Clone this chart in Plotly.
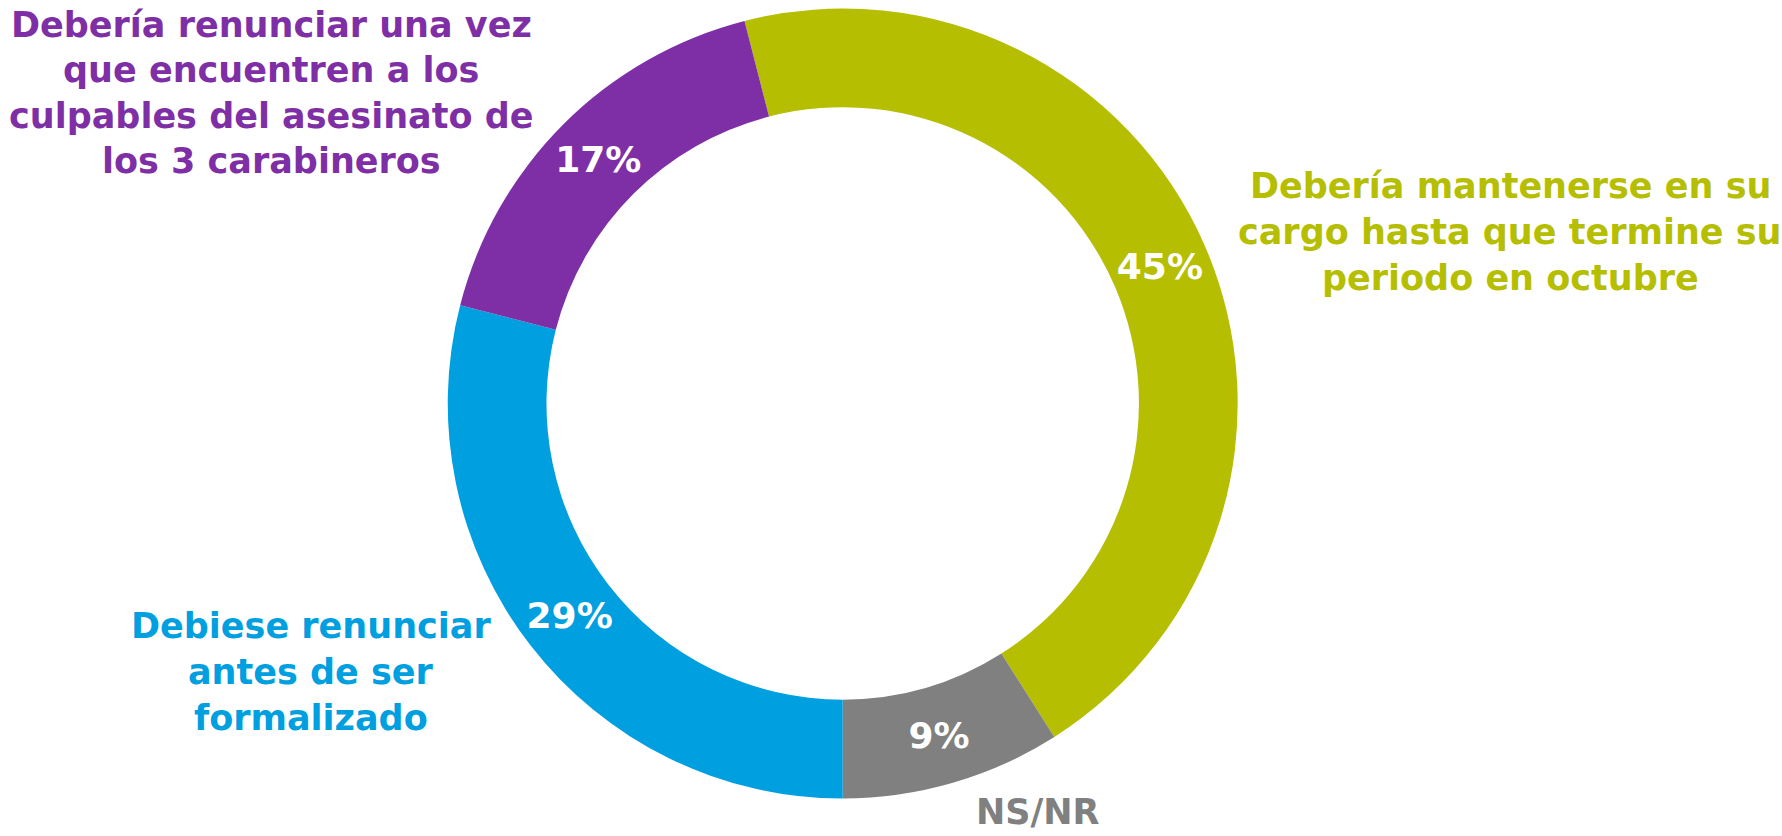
import plotly.graph_objects as go

# data, clockwise from the top
categories = [
    "Debería mantenerse en su cargo hasta que termine su periodo en octubre",
    "NS/NR",
    "Debiese renunciar antes de ser formalizado",
    "Debería renunciar una vez que encuentren a los culpables del asesinato de los 3 carabineros",
]
values = [45, 9, 29, 17]
pct_labels = ["45%", "9%", "29%", "17%"]
colors = ["#B5BE00", "#808080", "#009FDF", "#7F2FA5"]

# outside label lines (one annotation per line so spacing can match)
label_lines = [
    ["Debería mantenerse en su", "cargo hasta que termine su", "periodo en octubre"],
    ["NS/NR"],
    ["Debiese renunciar", "antes de ser", "formalizado"],
    ["Debería renunciar una vez", "que encuentren a los", "culpables del asesinato de", "los 3 carabineros"],
]

W, H = 1782, 836
FONT = "DejaVu Sans"

fig = go.Figure()
fig.add_trace(go.Pie(
    labels=categories,
    values=values,
    text=pct_labels,
    textinfo="text",
    textposition="inside",
    insidetextorientation="horizontal",
    textfont=dict(family=FONT, size=36, color="white", weight="bold"),
    marker=dict(colors=colors, line=dict(width=0)),
    hole=0.75,
    sort=False,
    direction="clockwise",
    rotation=-14.4,
    domain=dict(x=[0.2512, 0.6946], y=[0.0449, 0.9898]),
    showlegend=False,
    hoverinfo="label+percent",
))

# label anchor positions in pixels: (center x, first line y, line step)
label_pos = [
    (1510, 186, 46),
    (1038, 812, 0),
    (311, 626, 46),
    (271, 25, 45.5),
]

annotations = []
for lines, color, (cx, y0, step) in zip(label_lines, colors, label_pos):
    for i, line in enumerate(lines):
        annotations.append(dict(
            text=line,
            x=cx / W, y=1 - (y0 + i * step) / H,
            xref="paper", yref="paper",
            xanchor="center", yanchor="middle",
            showarrow=False,
            font=dict(family=FONT, size=35, color=color, weight="bold"),
        ))

fig.update_layout(
    width=W, height=H,
    margin=dict(l=0, r=0, t=0, b=0),
    paper_bgcolor="white",
    plot_bgcolor="white",
    annotations=annotations,
)

# drop the default page margin so the figure sits at the window's corner
fig.write_html(
    "out.html",
    config={"displayModeBar": False},
    post_script="document.body.style.margin='0';",
)
